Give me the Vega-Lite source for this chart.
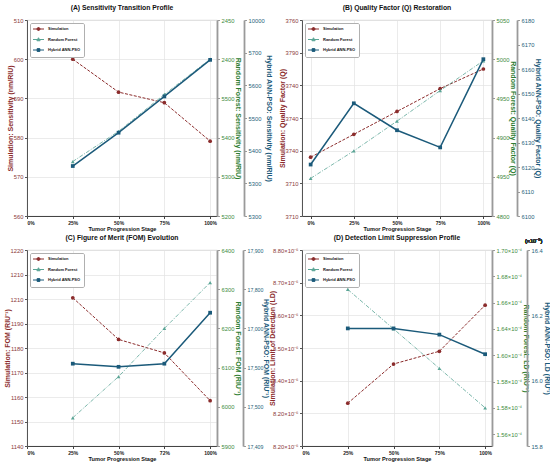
{
  "$schema": "https://vega.github.io/schema/vega-lite/v6.json",
  "padding": {"left": 2, "top": 4, "right": 2, "bottom": 2},
  "background": "white",
  "datasets": {
    "A": [
      {"series": "Simulation", "stage": 25, "value": 600},
      {"series": "Simulation", "stage": 50, "value": 591.6},
      {"series": "Simulation", "stage": 75, "value": 588.9},
      {"series": "Simulation", "stage": 100, "value": 579.1},
      {"series": "Random Forest", "stage": 25, "value": 5339},
      {"series": "Random Forest", "stage": 50, "value": 5416},
      {"series": "Random Forest", "stage": 75, "value": 5510},
      {"series": "Random Forest", "stage": 100, "value": 5600},
      {"series": "Hybrid ANN-PSO", "stage": 25, "value": 5353},
      {"series": "Hybrid ANN-PSO", "stage": 50, "value": 5455},
      {"series": "Hybrid ANN-PSO", "stage": 75, "value": 5566},
      {"series": "Hybrid ANN-PSO", "stage": 100, "value": 5678}
    ],
    "B": [
      {"series": "Simulation", "stage": 0, "value": 3718},
      {"series": "Simulation", "stage": 25, "value": 3725},
      {"series": "Simulation", "stage": 50, "value": 3732},
      {"series": "Simulation", "stage": 75, "value": 3739},
      {"series": "Simulation", "stage": 100, "value": 3745},
      {"series": "Random Forest", "stage": 0, "value": 4848},
      {"series": "Random Forest", "stage": 25, "value": 4883},
      {"series": "Random Forest", "stage": 50, "value": 4921},
      {"series": "Random Forest", "stage": 75, "value": 4960},
      {"series": "Random Forest", "stage": 100, "value": 4998},
      {"series": "Hybrid ANN-PSO", "stage": 0, "value": 6121},
      {"series": "Hybrid ANN-PSO", "stage": 25, "value": 6146},
      {"series": "Hybrid ANN-PSO", "stage": 50, "value": 6135},
      {"series": "Hybrid ANN-PSO", "stage": 75, "value": 6128},
      {"series": "Hybrid ANN-PSO", "stage": 100, "value": 6164}
    ],
    "C": [
      {"series": "Simulation", "stage": 25, "value": 1200.5},
      {"series": "Simulation", "stage": 50, "value": 1183.5},
      {"series": "Simulation", "stage": 75, "value": 1178},
      {"series": "Simulation", "stage": 100, "value": 1158.5},
      {"series": "Random Forest", "stage": 25, "value": 5972},
      {"series": "Random Forest", "stage": 50, "value": 6077},
      {"series": "Random Forest", "stage": 75, "value": 6200},
      {"series": "Random Forest", "stage": 100, "value": 6317},
      {"series": "Hybrid ANN-PSO", "stage": 25, "value": 17610},
      {"series": "Hybrid ANN-PSO", "stage": 50, "value": 17602},
      {"series": "Hybrid ANN-PSO", "stage": 75, "value": 17610},
      {"series": "Hybrid ANN-PSO", "stage": 100, "value": 17740}
    ],
    "D": [
      {"series": "Simulation", "stage": 25, "value": 0.000008331},
      {"series": "Simulation", "stage": 50, "value": 0.000008451},
      {"series": "Simulation", "stage": 75, "value": 0.00000849},
      {"series": "Simulation", "stage": 100, "value": 0.000008631},
      {"series": "Random Forest", "stage": 25, "value": 0.0001670},
      {"series": "Random Forest", "stage": 50, "value": 0.0001640},
      {"series": "Random Forest", "stage": 75, "value": 0.0001610},
      {"series": "Random Forest", "stage": 100, "value": 0.0001580},
      {"series": "Hybrid ANN-PSO", "stage": 25, "value": 0.00016160},
      {"series": "Hybrid ANN-PSO", "stage": 50, "value": 0.00016160},
      {"series": "Hybrid ANN-PSO", "stage": 75, "value": 0.00016141},
      {"series": "Hybrid ANN-PSO", "stage": 100, "value": 0.00016081}
    ]
  },
  "columns": 2,
  "spacing": {"row": 34, "column": 85},
  "bounds": "flush",
  "resolve": {"scale": {"color": "independent"}, "legend": {"color": "independent"}},
  "concat": [
    {
      "width": 190,
      "height": 196,
      "title": "(A) Sensitivity Transition Profile",
      "data": {"name": "A"},
      "encoding": {
        "x": {
          "field": "stage", "type": "quantitative",
          "scale": {"domain": [0, 103.75], "nice": false, "zero": false},
          "axis": {"values": [0, 25, 50, 75, 100], "labelExpr": "datum.value + '%'", "title": "Tumor Progression Stage", "grid": true}
        },
        "color": {
          "field": "series", "type": "nominal",
          "scale": {"domain": ["Simulation", "Random Forest", "Hybrid ANN-PSO"], "range": ["#8b2c2c", "#5aa596", "#1b5a7a"]},
          "legend": {
            "title": null, "orient": "top-left", "offset": 3, "padding": 3,
            "fillColor": "white", "strokeColor": "#b0b0b0", "cornerRadius": 1.5,
            "labelFontSize": 4, "labelFontWeight": "bold", "labelColor": "#111",
            "symbolSize": 25, "rowPadding": 2.5, "labelOffset": 9, "symbolStrokeWidth": 1,
            "encode": {"symbols": {"update": {
              "shape": {"signal": "datum.value === 'Simulation' ? 'M-1.2,0H3.2M1.6,0A0.6,0.6,0,1,1,0.4,0A0.6,0.6,0,1,1,1.6,0Z' : datum.value === 'Random Forest' ? 'M-1.2,0H3.2M1,-0.7L1.65,0.5L0.35,0.5Z' : 'M-1.2,0H3.2M0.45,-0.55H1.55V0.55H0.45Z'"},
              "fill": {"signal": "datum.value === 'Simulation' ? '#8b2c2c' : datum.value === 'Random Forest' ? '#4e9a8c' : '#1b5a7a'"},
              "stroke": {"signal": "datum.value === 'Simulation' ? '#8b2c2c' : datum.value === 'Random Forest' ? '#4e9a8c' : '#1b5a7a'"},
              "opacity": {"value": 1}
            }}}
          }
        }
      },
      "layer": [
        {
          "transform": [{"filter": "datum.series === 'Simulation'"}],
          "mark": {"type": "line", "strokeWidth": 1, "strokeDash": [3, 1.5], "point": {"filled": true, "shape": "circle", "size": 14}},
          "encoding": {"y": {"field": "value", "type": "quantitative",
            "scale": {"domain": [560, 610], "nice": false, "zero": false},
            "axis": {"orient": "left", "title": "Simulation: Sensitivity (nm/RIU)", "values": [560, 570, 580, 590, 600, 610],
              "labelExpr": "['560','570','580','590','600','510'][round((datum.value-560)/10)]",
              "labelColor": "#8b3a3a", "titleColor": "#8b2c2c", "grid": true}}}
        },
        {
          "transform": [{"filter": "datum.series === 'Random Forest'"}],
          "mark": {"type": "line", "strokeWidth": 0.8, "strokeDash": [4, 1.5, 1, 1.5], "point": {"filled": true, "shape": "triangle-up", "size": 14}},
          "encoding": {"y": {"field": "value", "type": "quantitative",
            "scale": {"domain": [5200, 5700], "nice": false, "zero": false},
            "axis": {"orient": "right", "title": "Random Forest: Sensitivity (nm/RIU)", "values": [5200, 5300, 5400, 5500, 5600, 5700],
              "labelExpr": "['5200','5300','5400','5500','2400','2450'][round((datum.value-5200)/100)]",
              "labelColor": "#3d8b3d", "titleColor": "#2e7d32"}}}
        },
        {
          "transform": [{"filter": "datum.series === 'Hybrid ANN-PSO'"}],
          "mark": {"type": "line", "strokeWidth": 1.5, "point": {"filled": true, "shape": "square", "size": 14}},
          "encoding": {"y": {"field": "value", "type": "quantitative",
            "scale": {"domain": [5200, 5800], "nice": false, "zero": false},
            "axis": {"orient": "right", "offset": 27, "title": "Hybrid ANN-PSO: Sensitivity (nm/RIU)", "values": [5200, 5300, 5400, 5500, 5600, 5700, 5800],
              "labelExpr": "['5300','5300','5400','5500','5600','5700','10000'][round((datum.value-5200)/100)]",
              "labelColor": "#1f5f7a", "titleColor": "#1b5a7a"}}}
        }
      ],
      "resolve": {"scale": {"y": "independent"}}
    },
    {
      "width": 190,
      "height": 196,
      "title": "(B) Quality Factor (Q) Restoration",
      "data": {"name": "B"},
      "encoding": {
        "x": {
          "field": "stage", "type": "quantitative",
          "scale": {"domain": [-5, 105], "nice": false, "zero": false},
          "axis": {"values": [0, 25, 50, 75, 100], "labelExpr": "datum.value + '%'", "title": "Tumor Progression Stage", "grid": true}
        },
        "color": {
          "field": "series", "type": "nominal",
          "scale": {"domain": ["Simulation", "Random Forest", "Hybrid ANN-PSO"], "range": ["#8b2c2c", "#5aa596", "#1b5a7a"]},
          "legend": {
            "title": null, "orient": "top-left", "offset": 3, "padding": 3,
            "fillColor": "white", "strokeColor": "#b0b0b0", "cornerRadius": 1.5,
            "labelFontSize": 4, "labelFontWeight": "bold", "labelColor": "#111",
            "symbolSize": 25, "rowPadding": 2.5, "labelOffset": 9, "symbolStrokeWidth": 1,
            "encode": {"symbols": {"update": {
              "shape": {"signal": "datum.value === 'Simulation' ? 'M-1.2,0H3.2M1.6,0A0.6,0.6,0,1,1,0.4,0A0.6,0.6,0,1,1,1.6,0Z' : datum.value === 'Random Forest' ? 'M-1.2,0H3.2M1,-0.7L1.65,0.5L0.35,0.5Z' : 'M-1.2,0H3.2M0.45,-0.55H1.55V0.55H0.45Z'"},
              "fill": {"signal": "datum.value === 'Simulation' ? '#8b2c2c' : datum.value === 'Random Forest' ? '#4e9a8c' : '#1b5a7a'"},
              "stroke": {"signal": "datum.value === 'Simulation' ? '#8b2c2c' : datum.value === 'Random Forest' ? '#4e9a8c' : '#1b5a7a'"},
              "opacity": {"value": 1}
            }}}
          }
        }
      },
      "layer": [
        {
          "transform": [{"filter": "datum.series === 'Simulation'"}],
          "mark": {"type": "line", "strokeWidth": 1, "strokeDash": [3, 1.5], "point": {"filled": true, "shape": "circle", "size": 14}},
          "encoding": {"y": {"field": "value", "type": "quantitative",
            "scale": {"domain": [3700, 3760], "nice": false, "zero": false},
            "axis": {"orient": "left", "title": "Simulation: Quality Factor (Q)", "values": [3700, 3710, 3720, 3730, 3740, 3750, 3760],
              "labelExpr": "['3710','3710','3740','3740','3740','3790','3760'][round((datum.value-3700)/10)]",
              "labelColor": "#8b3a3a", "titleColor": "#8b2c2c", "grid": true}}}
        },
        {
          "transform": [{"filter": "datum.series === 'Random Forest'"}],
          "mark": {"type": "line", "strokeWidth": 0.8, "strokeDash": [4, 1.5, 1, 1.5], "point": {"filled": true, "shape": "triangle-up", "size": 14}},
          "encoding": {"y": {"field": "value", "type": "quantitative",
            "scale": {"domain": [4800, 5050], "nice": false, "zero": false},
            "axis": {"orient": "right", "title": "Random Forest: Quality Factor (Q)", "values": [4800, 4850, 4900, 4950, 5000, 5050],
              "labelExpr": "['4800','4950','4900','4950','5000','5050'][round((datum.value-4800)/50)]",
              "labelColor": "#3d8b3d", "titleColor": "#2e7d32"}}}
        },
        {
          "transform": [{"filter": "datum.series === 'Hybrid ANN-PSO'"}],
          "mark": {"type": "line", "strokeWidth": 1.5, "point": {"filled": true, "shape": "square", "size": 14}},
          "encoding": {"y": {"field": "value", "type": "quantitative",
            "scale": {"domain": [6100, 6180], "nice": false, "zero": false},
            "axis": {"orient": "right", "offset": 25, "title": "Hybrid ANN-PSO: Quality Factor (Q)", "values": [6100, 6110, 6120, 6130, 6140, 6150, 6160, 6170, 6180],
              "format": "d", "labelColor": "#1f5f7a", "titleColor": "#1b5a7a"}}}
        }
      ],
      "resolve": {"scale": {"y": "independent"}}
    },
    {
      "width": 190,
      "height": 196,
      "title": "(C) Figure of Merit (FOM) Evolution",
      "data": {"name": "C"},
      "encoding": {
        "x": {
          "field": "stage", "type": "quantitative",
          "scale": {"domain": [0, 103.75], "nice": false, "zero": false},
          "axis": {"values": [0, 25, 50, 75, 100], "labelExpr": "['0%','25%','50%','72%','100%'][round(datum.value/25)]", "title": "Tumor Progression Stage", "grid": true}
        },
        "color": {
          "field": "series", "type": "nominal",
          "scale": {"domain": ["Simulation", "Random Forest", "Hybrid ANN-PSO"], "range": ["#8b2c2c", "#5aa596", "#1b5a7a"]},
          "legend": {
            "title": null, "orient": "top-left", "offset": 3, "padding": 3,
            "fillColor": "white", "strokeColor": "#b0b0b0", "cornerRadius": 1.5,
            "labelFontSize": 4, "labelFontWeight": "bold", "labelColor": "#111",
            "symbolSize": 25, "rowPadding": 2.5, "labelOffset": 9, "symbolStrokeWidth": 1,
            "encode": {"symbols": {"update": {
              "shape": {"signal": "datum.value === 'Simulation' ? 'M-1.2,0H3.2M1.6,0A0.6,0.6,0,1,1,0.4,0A0.6,0.6,0,1,1,1.6,0Z' : datum.value === 'Random Forest' ? 'M-1.2,0H3.2M1,-0.7L1.65,0.5L0.35,0.5Z' : 'M-1.2,0H3.2M0.45,-0.55H1.55V0.55H0.45Z'"},
              "fill": {"signal": "datum.value === 'Simulation' ? '#8b2c2c' : datum.value === 'Random Forest' ? '#4e9a8c' : '#1b5a7a'"},
              "stroke": {"signal": "datum.value === 'Simulation' ? '#8b2c2c' : datum.value === 'Random Forest' ? '#4e9a8c' : '#1b5a7a'"},
              "opacity": {"value": 1}
            }}}
          }
        }
      },
      "layer": [
        {
          "transform": [{"filter": "datum.series === 'Simulation'"}],
          "mark": {"type": "line", "strokeWidth": 1, "strokeDash": [3, 1.5], "point": {"filled": true, "shape": "circle", "size": 14}},
          "encoding": {"y": {"field": "value", "type": "quantitative",
            "scale": {"domain": [1140, 1220], "nice": false, "zero": false},
            "axis": {"orient": "left", "title": "Simulation: FOM (RIU⁻¹)", "values": [1140, 1150, 1160, 1170, 1180, 1190, 1200, 1210, 1220],
              "labelExpr": "['1140','1150','1160','1170','1180','1190','1210','1210','1220'][round((datum.value-1140)/10)]",
              "labelColor": "#8b3a3a", "titleColor": "#8b2c2c", "grid": true}}}
        },
        {
          "transform": [{"filter": "datum.series === 'Random Forest'"}],
          "mark": {"type": "line", "strokeWidth": 0.8, "strokeDash": [4, 1.5, 1, 1.5], "point": {"filled": true, "shape": "triangle-up", "size": 14}},
          "encoding": {"y": {"field": "value", "type": "quantitative",
            "scale": {"domain": [5900, 6400], "nice": false, "zero": false},
            "axis": {"orient": "right", "title": "Random Forest: FOM (RIU⁻¹)", "values": [5900, 6000, 6100, 6200, 6300, 6400],
              "format": "d", "labelColor": "#3d8b3d", "titleColor": "#2e7d32"}}}
        },
        {
          "transform": [{"filter": "datum.series === 'Hybrid ANN-PSO'"}],
          "mark": {"type": "line", "strokeWidth": 1.5, "point": {"filled": true, "shape": "square", "size": 14}},
          "encoding": {"y": {"field": "value", "type": "quantitative",
            "scale": {"domain": [17400, 17900], "nice": false, "zero": false},
            "axis": {"orient": "right", "offset": 26, "title": "Hybrid ANN-PSO: FOM (RIU⁻¹)", "values": [17400, 17500, 17600, 17700, 17800, 17900],
              "labelExpr": "['17,409','17,500','17,500','17,000','17,800','17,900'][round((datum.value-17400)/100)]",
              "labelFontSize": 5.2, "titlePadding": 0,
              "labelColor": "#1f5f7a", "titleColor": "#1b5a7a"}}}
        }
      ],
      "resolve": {"scale": {"y": "independent"}}
    },
    {
      "width": 190,
      "height": 196,
      "title": {"text": "(D) Detection Limit Suppression Profile", "offset": -3},
      "data": {"name": "D"},
      "encoding": {
        "x": {
          "field": "stage", "type": "quantitative",
          "scale": {"domain": [0, 103.75], "nice": false, "zero": false},
          "axis": {"values": [0, 25, 50, 75, 100], "labelExpr": "datum.value + '%'", "title": "Tumor Progression Stage", "grid": true}
        },
        "color": {
          "field": "series", "type": "nominal",
          "scale": {"domain": ["Simulation", "Random Forest", "Hybrid ANN-PSO"], "range": ["#8b2c2c", "#5aa596", "#1b5a7a"]},
          "legend": {
            "title": null, "orient": "top-left", "offset": 3, "padding": 3,
            "fillColor": "white", "strokeColor": "#b0b0b0", "cornerRadius": 1.5,
            "labelFontSize": 4, "labelFontWeight": "bold", "labelColor": "#111",
            "symbolSize": 25, "rowPadding": 2.5, "labelOffset": 9, "symbolStrokeWidth": 1,
            "encode": {"symbols": {"update": {
              "shape": {"signal": "datum.value === 'Simulation' ? 'M-1.2,0H3.2M1.6,0A0.6,0.6,0,1,1,0.4,0A0.6,0.6,0,1,1,1.6,0Z' : datum.value === 'Random Forest' ? 'M-1.2,0H3.2M1,-0.7L1.65,0.5L0.35,0.5Z' : 'M-1.2,0H3.2M0.45,-0.55H1.55V0.55H0.45Z'"},
              "fill": {"signal": "datum.value === 'Simulation' ? '#8b2c2c' : datum.value === 'Random Forest' ? '#4e9a8c' : '#1b5a7a'"},
              "stroke": {"signal": "datum.value === 'Simulation' ? '#8b2c2c' : datum.value === 'Random Forest' ? '#4e9a8c' : '#1b5a7a'"},
              "opacity": {"value": 1}
            }}}
          }
        }
      },
      "layer": [
        {
          "transform": [{"filter": "datum.series === 'Simulation'"}],
          "mark": {"type": "line", "strokeWidth": 1, "strokeDash": [3, 1.5], "point": {"filled": true, "shape": "circle", "size": 14}},
          "encoding": {"y": {"field": "value", "type": "quantitative",
            "scale": {"domain": [0.0000082, 0.0000088], "nice": false, "zero": false},
            "axis": {"orient": "left", "title": "Simulation: Limit of Detection (LD)",
              "values": [0.0000082, 0.0000083, 0.0000084, 0.0000085, 0.0000086, 0.0000087, 0.0000088],
              "labelExpr": "['8.20×10⁻⁶','8.20×10⁻⁶','8.40×10⁻⁶','8.50×10⁻⁶','8.60×10⁻⁶','8.70×10⁻⁶','8.80×10⁻⁶'][round((datum.value*1e6-8.2)*10)]",
              "titlePadding": -3,
              "labelColor": "#8b3a3a", "titleColor": "#8b2c2c", "grid": true}}}
        },
        {
          "transform": [{"filter": "datum.series === 'Random Forest'"}],
          "mark": {"type": "line", "strokeWidth": 0.8, "strokeDash": [4, 1.5, 1, 1.5], "point": {"filled": true, "shape": "triangle-up", "size": 14}},
          "encoding": {"y": {"field": "value", "type": "quantitative",
            "scale": {"domain": [0.0001551, 0.000170], "nice": false, "zero": false},
            "axis": {"orient": "right", "title": "Random Forest: LD (RIU⁻¹)",
              "values": [0.000156, 0.000158, 0.000160, 0.000162, 0.000164, 0.000166, 0.000168, 0.000170],
              "labelExpr": "['1.56×10⁻⁴','1.58×10⁻⁴','1.58×10⁻⁴','1.60×10⁻⁴','1.64×10⁻⁴','1.66×10⁻⁴','1.68×10⁻⁴','1.70×10⁻⁴'][round((datum.value*1e4-1.56)*50)]",
              "labelColor": "#3d8b3d", "titleColor": "#2e7d32"}}}
        },
        {
          "layer": [
            {
              "transform": [{"filter": "datum.series === 'Hybrid ANN-PSO'"}],
              "mark": {"type": "line", "strokeWidth": 1.5, "point": {"filled": true, "shape": "square", "size": 14}},
              "encoding": {"y": {"field": "value", "type": "quantitative",
                "scale": {"domain": [0.000158, 0.000164], "nice": false, "zero": false},
                "axis": {"orient": "right", "offset": 35, "title": "Hybrid ANN-PSO: LD (RIU⁻¹)",
                  "values": [0.000158, 0.000159, 0.000160, 0.000161, 0.000162, 0.000163, 0.000164],
                  "labelExpr": "['15.8','15.8','16.0','16.2','16.2','16.4','16.4'][round((datum.value*1e5-15.8)*10)]",
                  "labelColor": "#1f5f7a", "titleColor": "#1b5a7a"}}}
            },
            {
              "mark": {"type": "text", "text": "(×10⁻⁵)", "fontSize": 5.5, "dy": -9},
              "encoding": {"x": {"datum": 126.5}, "y": {"datum": 0.000164}, "color": {"value": "#333333"}}
            }
          ]
        }
      ],
      "resolve": {"scale": {"y": "independent"}}
    }
  ],
  "config": {
    "font": "Liberation Sans",
    "view": {"stroke": "#c8c8c8", "strokeWidth": 0.8},
    "title": {"fontSize": 6.8, "fontWeight": "bold", "offset": 5, "color": "#111", "anchor": "middle"},
    "axis": {
      "labelFontSize": 5.8, "titleFontSize": 7, "titleFontWeight": "bold",
      "tickSize": 2.5, "labelPadding": 1.5, "titlePadding": 1, "grid": false,
      "gridColor": "#e2e2e2", "gridWidth": 0.7, "labelOverlap": false
    },
    "axisLeft": {"domainColor": "#555", "tickColor": "#555", "domainWidth": 1, "titlePadding": 0},
    "axisRight": {"domainColor": "#9a9a9a", "tickColor": "#9a9a9a", "domainWidth": 1.8, "titlePadding": 1},
    "axisBottom": {"domainColor": "#444", "tickColor": "#444", "domainWidth": 1, "labelFontSize": 5, "labelFontWeight": "bold", "labelColor": "#222", "titleFontSize": 5.6, "titleColor": "#111", "titlePadding": 1}
  }
}
